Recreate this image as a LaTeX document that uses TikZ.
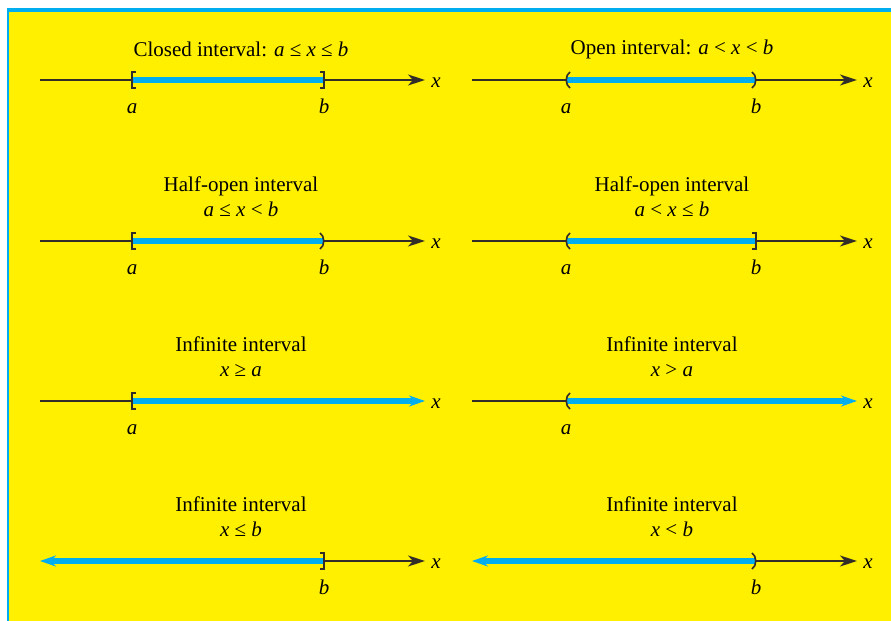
\documentclass[tikz,border=0pt]{standalone}
\usepackage{fontspec}
\setmainfont{Liberation Serif}
\usetikzlibrary{positioning,arrows.meta}
\definecolor{bgyellow}{RGB}{255,240,0}
\definecolor{intblue}{RGB}{0,174,239}
\definecolor{axisgray}{RGB}{50,45,40}

\begin{document}
\begin{tikzpicture}[x=0.5pt,y=-0.5pt,
    font=\fontsize{10.5}{12.5}\selectfont,
    axis/.style={draw=axisgray, line width=1pt},
    axisarrow/.style={axis, -{Stealth[length=8.5pt,width=5.5pt,inset=2.5pt]}},
    band/.style={draw=intblue, line width=3pt},
    bandarrow/.style={band, -{Stealth[length=8pt,width=5.5pt]}},
    brk/.style={draw=axisgray, line width=0.8pt},
    title/.style={align=center, inner sep=0pt},
    endlabel/.style={font=\fontsize{10.5}{12.5}\selectfont\itshape, inner sep=0pt},
    varlabel/.style={font=\fontsize{10.5}{12.5}\selectfont\itshape, inner sep=1pt, yshift=-1.5pt},
    lclosed/.pic={\draw[brk] (4,-8) -- (0,-8) -- (0,8) -- (4,8);},
    rclosed/.pic={\draw[brk] (-4,-8) -- (0,-8) -- (0,8) -- (-4,8);},
    lopen/.pic={\draw[brk] (4,-8) .. controls (-1,-5) and (-1,5) .. (4,8);},
    ropen/.pic={\draw[brk] (-4,-8) .. controls (1,-5) and (1,5) .. (-4,8);}]

    % Define line positions
    \def\lstart{40}  \def\lend{425}  \def\la{132}  \def\lb{324}
    \def\rstart{472} \def\rend{857}  \def\ra{566}  \def\rb{756}
    \def\rowA{80} \def\rowB{241} \def\rowC{401} \def\rowD{561}

    % Background and frame
    \useasboundingbox (0,0) rectangle (891,621);
    \fill[white] (0,0) rectangle (891,621);
    \fill[bgyellow] (8,10) rectangle (891,621);
    \fill[intblue] (7,8) rectangle (891,12);
    \fill[intblue] (7,8) rectangle (8.5,621);

    % Closed interval
    \coordinate (c-s) at (\lstart,\rowA);
    \coordinate (c-a) at (\la,\rowA);
    \coordinate (c-b) at (\lb,\rowA);
    \coordinate (c-e) at (\lend,\rowA);
    \draw[axisarrow] (c-s) -- (c-e);
    \draw[band] (c-a) -- (c-b);
    \pic at (c-a) {lclosed};
    \pic at (c-b) {rclosed};
    \node[title] (c-t) at (241,49) {Closed interval: \textit{a} ≤ \textit{x} ≤ \textit{b}};
    \node[endlabel, below=16.5pt of c-a, anchor=base] (c-la) {a};
    \node[endlabel, below=16.5pt of c-b, anchor=base] (c-lb) {b};
    \node[varlabel, right=2pt of c-e] (c-x) {x};

    % Open interval
    \coordinate (o-s) at (\rstart,\rowA);
    \coordinate (o-a) at (\ra,\rowA);
    \coordinate (o-b) at (\rb,\rowA);
    \coordinate (o-e) at (\rend,\rowA);
    \draw[axisarrow] (o-s) -- (o-e);
    \draw[band] (o-a) -- (o-b);
    \pic at (o-a) {lopen};
    \pic at (o-b) {ropen};
    \node[title] (o-t) at (672,49) {Open interval: \textit{a} < \textit{x} < \textit{b}};
    \node[endlabel, below=16.5pt of o-a, anchor=base] (o-la) {a};
    \node[endlabel, below=16.5pt of o-b, anchor=base] (o-lb) {b};
    \node[varlabel, right=2pt of o-e] (o-x) {x};

    % Half-open interval, closed at a
    \coordinate (h-s) at (\lstart,\rowB);
    \coordinate (h-a) at (\la,\rowB);
    \coordinate (h-b) at (\lb,\rowB);
    \coordinate (h-e) at (\lend,\rowB);
    \draw[axisarrow] (h-s) -- (h-e);
    \draw[band] (h-a) -- (h-b);
    \pic at (h-a) {lclosed};
    \pic at (h-b) {ropen};
    \node[title] (h-t) at (241,197) {Half-open interval\\\textit{a} ≤ \textit{x} < \textit{b}};
    \node[endlabel, below=16.5pt of h-a, anchor=base] (h-la) {a};
    \node[endlabel, below=16.5pt of h-b, anchor=base] (h-lb) {b};
    \node[varlabel, right=2pt of h-e] (h-x) {x};

    % Half-open interval, closed at b
    \coordinate (k-s) at (\rstart,\rowB);
    \coordinate (k-a) at (\ra,\rowB);
    \coordinate (k-b) at (\rb,\rowB);
    \coordinate (k-e) at (\rend,\rowB);
    \draw[axisarrow] (k-s) -- (k-e);
    \draw[band] (k-a) -- (k-b);
    \pic at (k-a) {lopen};
    \pic at (k-b) {rclosed};
    \node[title] (k-t) at (672,197) {Half-open interval\\\textit{a} < \textit{x} ≤ \textit{b}};
    \node[endlabel, below=16.5pt of k-a, anchor=base] (k-la) {a};
    \node[endlabel, below=16.5pt of k-b, anchor=base] (k-lb) {b};
    \node[varlabel, right=2pt of k-e] (k-x) {x};

    % Infinite interval x >= a
    \coordinate (g-s) at (\lstart,\rowC);
    \coordinate (g-a) at (\la,\rowC);
    \coordinate (g-e) at (\lend,\rowC);
    \draw[axis] (g-s) -- (g-a);
    \draw[bandarrow] (g-a) -- (g-e);
    \pic at (g-a) {lclosed};
    \node[title] (g-t) at (241,357) {Infinite interval\\\textit{x} ≥ \textit{a}};
    \node[endlabel, below=16.5pt of g-a, anchor=base] (g-la) {a};
    \node[varlabel, right=2pt of g-e] (g-x) {x};

    % Infinite interval x > a
    \coordinate (m-s) at (\rstart,\rowC);
    \coordinate (m-a) at (\ra,\rowC);
    \coordinate (m-e) at (\rend,\rowC);
    \draw[axis] (m-s) -- (m-a);
    \draw[bandarrow] (m-a) -- (m-e);
    \pic at (m-a) {lopen};
    \node[title] (m-t) at (672,357) {Infinite interval\\\textit{x} > \textit{a}};
    \node[endlabel, below=16.5pt of m-a, anchor=base] (m-la) {a};
    \node[varlabel, right=2pt of m-e] (m-x) {x};

    % Infinite interval x <= b
    \coordinate (l-s) at (\lstart,\rowD);
    \coordinate (l-b) at (\lb,\rowD);
    \coordinate (l-e) at (\lend,\rowD);
    \draw[axisarrow] (l-b) -- (l-e);
    \draw[bandarrow] (l-b) -- (l-s);
    \pic at (l-b) {rclosed};
    \node[title] (l-t) at (241,517) {Infinite interval\\\textit{x} ≤ \textit{b}};
    \node[endlabel, below=16.5pt of l-b, anchor=base] (l-lb) {b};
    \node[varlabel, right=2pt of l-e] (l-x) {x};

    % Infinite interval x < b
    \coordinate (n-s) at (\rstart,\rowD);
    \coordinate (n-b) at (\rb,\rowD);
    \coordinate (n-e) at (\rend,\rowD);
    \draw[axisarrow] (n-b) -- (n-e);
    \draw[bandarrow] (n-b) -- (n-s);
    \pic at (n-b) {ropen};
    \node[title] (n-t) at (672,517) {Infinite interval\\\textit{x} < \textit{b}};
    \node[endlabel, below=16.5pt of n-b, anchor=base] (n-lb) {b};
    \node[varlabel, right=2pt of n-e] (n-x) {x};

\end{tikzpicture}
\end{document}
